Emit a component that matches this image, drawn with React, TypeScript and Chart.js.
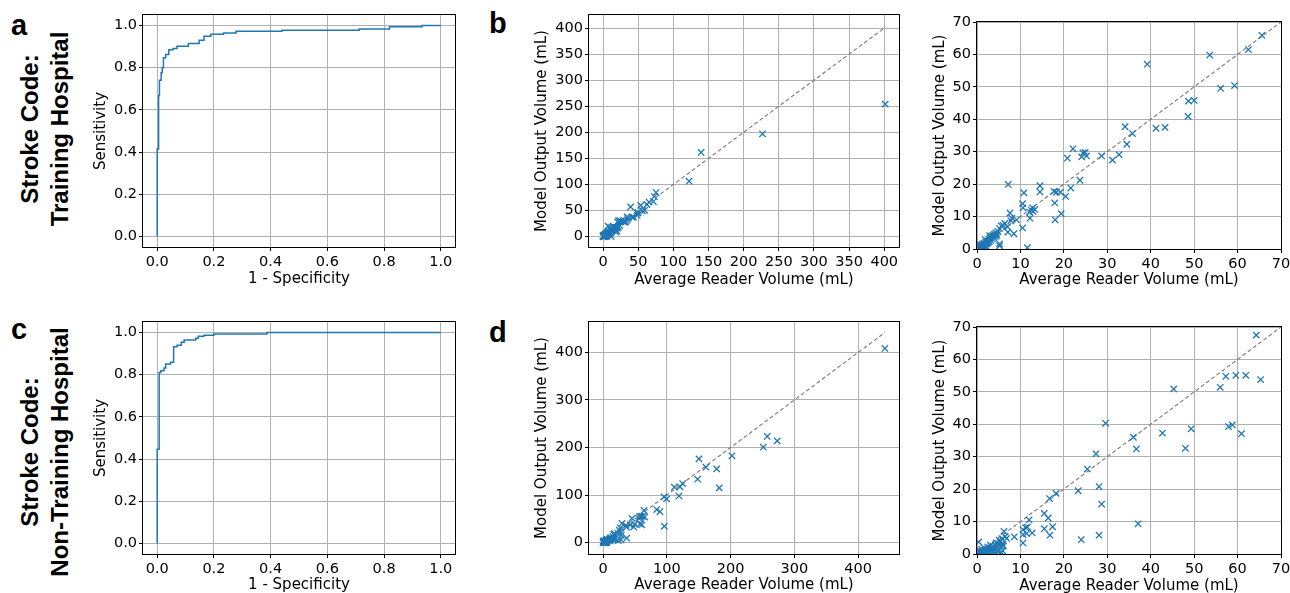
import React, { useEffect, useRef } from 'react';
import { Chart, registerables } from 'chart.js';

Chart.register(...registerables);
Chart.defaults.font.family = "'DejaVu Sans', sans-serif";
Chart.defaults.color = '#000';

// ---------- DATA ----------
const rocTicks = [0, 0.2, 0.4, 0.6, 0.8, 1.0];
const trainFullTicks = [0, 50, 100, 150, 200, 250, 300, 350, 400];
const testFullTicks = [0, 100, 200, 300, 400];
const zoomTicks = [0, 10, 20, 30, 40, 50, 60, 70];

const rocTrainFpr = [0, 0, 0.005, 0.005, 0.008, 0.008, 0.014, 0.014, 0.018, 0.018, 0.022, 0.022, 0.03, 0.03, 0.041, 0.041, 0.056, 0.056, 0.07, 0.07, 0.11, 0.11, 0.148, 0.148, 0.165, 0.165, 0.189, 0.189, 0.234, 0.234, 0.278, 0.278, 0.44, 0.44, 0.712, 0.712, 0.819, 0.819, 0.934, 0.934, 1.0];
const rocTrainTpr = [0, 0.415, 0.415, 0.668, 0.668, 0.741, 0.741, 0.776, 0.776, 0.8, 0.8, 0.847, 0.847, 0.863, 0.863, 0.885, 0.885, 0.891, 0.891, 0.902, 0.902, 0.915, 0.915, 0.93, 0.93, 0.949, 0.949, 0.959, 0.959, 0.965, 0.965, 0.973, 0.973, 0.978, 0.978, 0.984, 0.984, 0.994, 0.994, 1.0, 1.0];

const rocTestFpr = [0, 0, 0.007, 0.007, 0.013, 0.013, 0.024, 0.024, 0.03, 0.03, 0.047, 0.047, 0.058, 0.058, 0.07, 0.07, 0.085, 0.085, 0.095, 0.095, 0.136, 0.136, 0.145, 0.145, 0.165, 0.165, 0.2, 0.2, 0.387, 0.387, 1.0];
const rocTestTpr = [0, 0.447, 0.447, 0.811, 0.811, 0.819, 0.819, 0.832, 0.832, 0.851, 0.851, 0.859, 0.859, 0.933, 0.933, 0.94, 0.94, 0.954, 0.954, 0.965, 0.965, 0.973, 0.973, 0.982, 0.982, 0.987, 0.987, 0.993, 0.993, 1.0, 1.0];

// Training hospital: average reader volume vs model output volume (mL)
const trainReader = [
  401.4, 226.8, 139.5, 122.4, 75.4, 73.0, 71.6,
  65.6, 62.5, 53.6, 39.2, 56.1, 59.3, 48.7, 50.0, 48.6, 41.2, 43.3, 34.1, 35.8, 34.5,
  22.1, 24.4, 24.9, 25.2, 24.1, 20.8, 28.7, 31.2, 32.7, 23.7, 21.6, 20.4, 19.4, 17.9,
  18.0, 17.7, 18.3, 19.2, 14.5, 14.5, 7.2, 10.8, 10.5, 10.6, 12.1, 12.8, 13.3, 12.5,
  12.9, 12.2, 10.5, 11.6, 7.6, 9.1, 7.8, 8.5, 7.1, 6.0, 5.2, 4.5, 5.2, 5.2, 8.0, 7.0,
  5.6, 6.4, 4.1,
  0.2, 0.3, 0.5, 0.6, 0.8, 0.9, 1.0, 1.1, 1.2, 1.3, 1.5, 1.6, 1.7, 1.8, 2.0, 2.1, 2.2,
  2.4, 2.5, 2.7, 2.8, 3.0, 3.1, 3.3, 3.5, 3.6, 3.8, 4.0, 4.2, 4.3, 4.6, 4.8, 0.4, 0.7,
  1.4, 2.3, 0.1, 0.5, 1.9, 2.9,
];
const trainModel = [
  254.1, 197.1, 161.3, 106.2, 84.5, 76.8, 67.2,
  65.9, 61.5, 59.8, 57.0, 49.5, 50.4, 45.6, 45.8, 40.9, 37.2, 37.5, 37.7, 35.6, 32.3,
  30.9, 29.6, 29.8, 28.7, 28.4, 28.0, 28.7, 27.4, 29.1, 21.2, 18.8, 16.2, 10.9, 14.2,
  9.0, 17.8, 17.5, 17.5, 19.5, 17.6, 19.9, 17.3, 14.0, 12.7, 11.4, 12.7, 12.2, 12.0,
  11.6, 9.5, 6.5, 0.4, 11.1, 9.0, 8.7, 4.7, 5.2, 7.3, 6.3, 4.9, 1.6, 1.0, 9.5, 6.8,
  7.1, 7.9, 4.4,
  0.1, 0.4, 0.2, 0.8, 0.5, 1.2, 0.3, 0.9, 1.5, 0.6, 1.1, 1.8, 0.4, 1.3, 2.1, 0.8, 1.6,
  2.5, 1.9, 3.0, 2.2, 3.4, 2.7, 3.9, 3.1, 4.2, 3.5, 4.5, 3.8, 5.0, 4.2, 5.4, 0.0, 0.0,
  0.2, 0.3, 0.6, 1.5, 2.9, 4.1,
];

// Non-training hospital
const testReader = [
  441.8, 257.4, 273.1, 251.2, 202.1, 150.4, 161.4, 178.1, 148.3, 182.2, 124.8, 111.7,
  120.6, 119.1, 95.6, 99.7, 96.1, 84.1, 89.3,
  64.3, 57.3, 59.6, 61.9, 65.3, 56.0, 45.3, 29.6, 49.3, 57.9, 58.8, 60.9, 42.7, 36.0,
  36.7, 48.0, 27.4, 25.4, 28.1, 23.3, 28.7, 18.2, 16.7, 15.5, 16.4, 17.4, 15.5, 16.8,
  24.0, 28.1, 37.1, 12.0, 11.2, 11.6, 10.6, 12.7, 10.6, 11.4, 10.6, 8.6, 6.2, 6.5, 6.8,
  5.8, 5.9, 0.4, 5.6,
  0.5, 0.8, 1.0, 1.2, 1.4, 1.6, 1.8, 2.0, 2.2, 2.4, 2.6, 2.8, 3.0, 3.2, 3.4, 3.6, 3.8,
  4.0, 4.2, 4.4, 4.6, 4.8, 5.0, 5.3, 5.5, 0.2, 0.3, 1.1, 1.7, 2.5, 3.1, 4.1, 4.5, 0.7,
  1.3, 2.1, 5.7, 5.1, 5.9, 6.1,
];
const testModel = [
  408.4, 223.2, 214.0, 200.7, 182.5, 176.1, 158.6, 155.1, 133.3, 115.1, 124.2, 116.5,
  117.2, 98.2, 96.1, 91.9, 34.4, 69.5, 65.3,
  67.5, 54.8, 55.1, 55.1, 53.8, 51.4, 50.9, 40.3, 38.6, 39.3, 39.8, 37.1, 37.3, 36.0,
  32.4, 32.6, 30.9, 26.2, 20.8, 19.5, 15.4, 18.7, 17.1, 12.5, 11.1, 8.4, 7.8, 5.8,
  4.4, 5.8, 9.3, 10.5, 8.1, 8.3, 7.5, 6.5, 6.0, 6.3, 3.4, 5.3, 7.0, 5.4, 4.8,
  4.7, 2.8, 3.7, 0.5,
  0.2, 0.5, 0.1, 0.8, 0.3, 1.0, 0.6, 1.4, 0.2, 1.0, 0.5, 1.6, 0.8, 1.9, 1.2, 0.4, 2.3,
  1.5, 2.8, 3.4, 2.0, 0.9, 3.0, 3.8, 2.4, 0.0, 0.6, 1.5, 1.8, 2.2, 2.7, 0.3, 0.0, 1.0,
  0.0, 0.0, 3.3, 4.3, 1.0, 2.5,
];

// ---------- STYLE ----------
const BLUE = '#1f77b4';
const TICK_FONT = 14.5;
const TITLE_FONT = 15;

const framePlugin = {
  id: 'frame',
  afterDatasetsDraw(chart: any) {
    const { ctx, chartArea: a } = chart;
    ctx.save();
    ctx.strokeStyle = '#000';
    ctx.lineWidth = 1;
    const l = Math.round(a.left) - 0.5;
    const t = Math.round(a.top) - 0.5;
    const r = Math.round(a.right) + 0.5;
    const b = Math.round(a.bottom) + 0.5;
    ctx.strokeRect(l, t, r - l, b - t);
    ctx.restore();
  },
};

type Spec = {
  id: string;
  left: number; top: number; w: number; h: number;
  padTop: number; padRight: number; yw: number; xh: number;
  yTitlePad: number; xTitlePad: number;
  xTitle: string; yTitle: string;
  xMin: number; xMax: number; yMin: number; yMax: number;
  xTicks: number[]; yTicks: number[]; fmt: (v: number) => string;
  datasets: any[];
};

const pairs = (xs: number[], ys: number[]) => xs.map((x, i) => ({ x, y: ys[i] }));

const scatterSet = (xs: number[], ys: number[]) => ({
  type: 'scatter',
  data: pairs(xs, ys),
  pointStyle: 'crossRot',
  pointRadius: 4.5,
  pointHoverRadius: 4.5,
  borderColor: BLUE,
  backgroundColor: BLUE,
  pointBorderWidth: 1.3,
  borderWidth: 1.3,
  clip: 0,
});

const diagSet = (xs: number[], ys: number[]) => {
  const m = Math.max(...xs, ...ys);
  return {
    type: 'line',
    data: [{ x: 0, y: 0 }, { x: m, y: m }],
    borderColor: '#7a7a7a',
    borderWidth: 1.1,
    borderDash: [4, 2.5],
    pointRadius: 0,
    fill: false,
    clip: 0,
  };
};

const rocSet = (xs: number[], ys: number[]) => ({
  type: 'line',
  data: pairs(xs, ys),
  borderColor: BLUE,
  borderWidth: 1.5,
  pointRadius: 0,
  fill: false,
  tension: 0,
  clip: 0,
});

const fmt1 = (v: number) => v.toFixed(1);
const fmt0 = (v: number) => String(v);

const specs: Spec[] = [
  {
    id: 'a', left: 85, top: 0, w: 385, h: 300, padTop: 15, padRight: 15, yw: 58, xh: 53,
    yTitlePad: 7, xTitlePad: 12, xTitle: '1 - Specificity', yTitle: 'Sensitivity',
    xMin: -0.05, xMax: 1.05, yMin: -0.05, yMax: 1.05, xTicks: rocTicks, yTicks: rocTicks, fmt: fmt1,
    datasets: [rocSet(rocTrainFpr, rocTrainTpr)],
  },
  {
    id: 'b1', left: 520, top: 0, w: 395, h: 300, padTop: 15, padRight: 16, yw: 69, xh: 53,
    yTitlePad: 13, xTitlePad: 11, xTitle: 'Average Reader Volume (mL)', yTitle: 'Model Output Volume (mL)',
    xMin: -20, xMax: 421, yMin: -20, yMax: 425, xTicks: trainFullTicks, yTicks: trainFullTicks, fmt: fmt0,
    datasets: [scatterSet(trainReader, trainModel), diagSet(trainReader, trainModel)],
  },
  {
    id: 'b2', left: 905, top: 0, w: 395, h: 300, padTop: 22, padRight: 19, yw: 72, xh: 51,
    yTitlePad: 26, xTitlePad: 11, xTitle: 'Average Reader Volume (mL)', yTitle: 'Model Output Volume (mL)',
    xMin: 0, xMax: 70, yMin: 0, yMax: 70, xTicks: zoomTicks, yTicks: zoomTicks, fmt: fmt0,
    datasets: [scatterSet(trainReader, trainModel), diagSet(trainReader, trainModel)],
  },
  {
    id: 'c', left: 85, top: 300, w: 385, h: 305, padTop: 22, padRight: 15, yw: 58, xh: 51,
    yTitlePad: 7, xTitlePad: 11, xTitle: '1 - Specificity', yTitle: 'Sensitivity',
    xMin: -0.05, xMax: 1.05, yMin: -0.05, yMax: 1.05, xTicks: rocTicks, yTicks: rocTicks, fmt: fmt1,
    datasets: [rocSet(rocTestFpr, rocTestTpr)],
  },
  {
    id: 'd1', left: 520, top: 300, w: 395, h: 305, padTop: 22, padRight: 16, yw: 69, xh: 51,
    yTitlePad: 13, xTitlePad: 11, xTitle: 'Average Reader Volume (mL)', yTitle: 'Model Output Volume (mL)',
    xMin: -22, xMax: 464, yMin: -24, yMax: 464, xTicks: testFullTicks, yTicks: testFullTicks, fmt: fmt0,
    datasets: [scatterSet(testReader, testModel), diagSet(testReader, testModel)],
  },
  {
    id: 'd2', left: 905, top: 300, w: 395, h: 305, padTop: 27, padRight: 19, yw: 72, xh: 51,
    yTitlePad: 26, xTitlePad: 10, xTitle: 'Average Reader Volume (mL)', yTitle: 'Model Output Volume (mL)',
    xMin: 0, xMax: 70, yMin: 0, yMax: 70, xTicks: zoomTicks, yTicks: zoomTicks, fmt: fmt0,
    datasets: [scatterSet(testReader, testModel), diagSet(testReader, testModel)],
  },
];

function axis(s: Spec, isX: boolean) {
  const ticks = isX ? s.xTicks : s.yTicks;
  return {
    type: 'linear',
    position: isX ? 'bottom' : 'left',
    min: isX ? s.xMin : s.yMin,
    max: isX ? s.xMax : s.yMax,
    afterBuildTicks: (scale: any) => {
      scale.ticks = ticks.map((v) => ({ value: v }));
    },
    afterFit: (scale: any) => {
      if (isX) scale.height = s.xh;
      else scale.width = s.yw;
    },
    grid: {
      color: '#b0b0b0',
      lineWidth: 1,
      drawTicks: true,
      tickLength: 4,
      tickColor: '#000',
      tickWidth: 1,
    },
    border: { display: false },
    ticks: {
      autoSkip: false,
      maxRotation: 0,
      minRotation: 0,
      padding: isX ? 3 : 2,
      color: '#000',
      font: { size: TICK_FONT },
      callback: (v: any) => s.fmt(Number(v)),
    },
    title: {
      display: true,
      text: isX ? s.xTitle : s.yTitle,
      color: '#000',
      font: { size: TITLE_FONT },
      padding: isX ? { top: 0, bottom: s.xTitlePad } : { top: s.yTitlePad, bottom: 0 },
    },
  };
}

function Panel({ s }: { s: Spec }) {
  const ref = useRef<HTMLCanvasElement>(null);
  useEffect(() => {
    const chart = new Chart(ref.current as HTMLCanvasElement, {
      type: 'scatter',
      data: { datasets: s.datasets },
      options: {
        animation: false,
        responsive: false,
        devicePixelRatio: 1,
        events: [],
        layout: { padding: { top: s.padTop, right: s.padRight, left: 0, bottom: 0 } },
        plugins: { legend: { display: false }, tooltip: { enabled: false } },
        scales: { x: axis(s, true), y: axis(s, false) },
      } as any,
      plugins: [framePlugin],
    } as any);
    return () => chart.destroy();
  }, []);
  return (
    <canvas
      ref={ref}
      width={s.w}
      height={s.h}
      style={{ position: 'absolute', left: s.left, top: s.top, width: s.w, height: s.h }}
    />
  );
}

const letterStyle = (left: number, top: number): React.CSSProperties => ({
  position: 'absolute',
  left,
  top,
  fontFamily: "'Liberation Sans', Arial, sans-serif",
  fontWeight: 'bold',
  fontSize: 29,
  lineHeight: '29px',
  color: '#000',
});

function RotTitle({ cx, cy, lines }: { cx: number; cy: number; lines: string[] }) {
  return (
    <div
      style={{
        position: 'absolute',
        left: cx,
        top: cy,
        transform: 'translate(-50%, -50%) rotate(-90deg)',
        fontFamily: "'Liberation Sans', Arial, sans-serif",
        fontWeight: 'bold',
        fontSize: 24,
        lineHeight: '30px',
        textAlign: 'center',
        whiteSpace: 'nowrap',
        color: '#000',
      }}
    >
      {lines.map((l, i) => (
        <div key={i}>{l}</div>
      ))}
    </div>
  );
}

export default function App() {
  return (
    <div
      style={{
        position: 'fixed',
        left: 0,
        top: 0,
        width: 1290,
        height: 593,
        overflow: 'hidden',
        background: '#fff',
      }}
    >
      {specs.map((s) => (
        <Panel key={s.id} s={s} />
      ))}
      <div style={letterStyle(11, 11)}>a</div>
      <div style={letterStyle(489, 9)}>b</div>
      <div style={letterStyle(11, 315)}>c</div>
      <div style={letterStyle(489, 318)}>d</div>
      <RotTitle cx={45} cy={129} lines={['Stroke Code:', 'Training Hospital']} />
      <RotTitle cx={45} cy={452} lines={['Stroke Code:', 'Non-Training Hospital']} />
    </div>
  );
}
